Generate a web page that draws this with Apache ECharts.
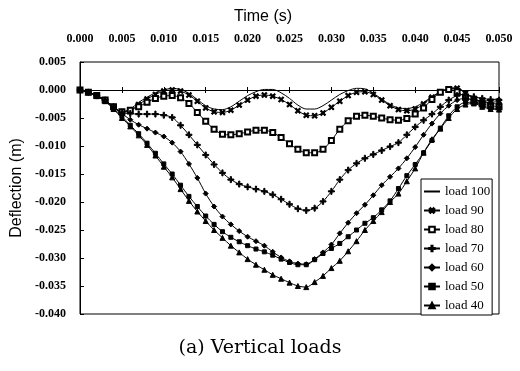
<!DOCTYPE html>
<html><head><meta charset="utf-8">
<script src="https://cdn.jsdelivr.net/npm/echarts@6/dist/echarts.min.js"></script>
<style>html,body{margin:0;padding:0;background:#fff}#c{width:520px;height:371px}</style>
</head><body><div id="c"></div>
<script>
var times = [0,0.001,0.002,0.003,0.004,0.005,0.006,0.007,0.008,0.009,0.010,0.011,0.012,0.013,0.014,0.015,0.016,0.017,0.018,0.019,0.020,0.021,0.022,0.023,0.024,0.025,0.026,0.027,0.028,0.029,0.030,0.031,0.032,0.033,0.034,0.035,0.036,0.037,0.038,0.039,0.040,0.041,0.042,0.043,0.044,0.045,0.046,0.047,0.048,0.049,0.050];
var seriesNames = ['load 100','load 90','load 80','load 70','load 60','load 50','load 40'];
var xTicks = [0,0.005,0.010,0.015,0.020,0.025,0.030,0.035,0.040,0.045,0.050];
var yTicks = [0.005,0,-0.005,-0.010,-0.015,-0.020,-0.025,-0.030,-0.035,-0.040];

var load100 = [0,-0.0004,-0.0010,-0.0018,-0.0030,-0.0039,-0.0034,-0.0022,-0.0013,-0.0005,0.0000,0.0003,0.0001,-0.0006,-0.0017,-0.0028,-0.0034,-0.0035,-0.0030,-0.0020,-0.0010,-0.0003,0.0001,0.0001,-0.0005,-0.0015,-0.0027,-0.0034,-0.0034,-0.0028,-0.0018,-0.0008,-0.0001,0.0003,0.0002,-0.0006,-0.0016,-0.0026,-0.0032,-0.0033,-0.0030,-0.0022,-0.0012,-0.0003,0.0003,0.0004,-0.0005,-0.0015,-0.0020,-0.0018,-0.0015];
var load90 = [0,-0.0004,-0.0010,-0.0018,-0.0030,-0.0039,-0.0036,-0.0026,-0.0016,-0.0008,-0.0002,0.0000,-0.0002,-0.0009,-0.0020,-0.0032,-0.0039,-0.0040,-0.0036,-0.0027,-0.0018,-0.0011,-0.0009,-0.0011,-0.0017,-0.0026,-0.0037,-0.0045,-0.0046,-0.0041,-0.0031,-0.0020,-0.0010,-0.0004,-0.0003,-0.0008,-0.0018,-0.0028,-0.0035,-0.0037,-0.0034,-0.0025,-0.0013,-0.0004,0.0002,0.0003,-0.0006,-0.0016,-0.0021,-0.0022,-0.0020];
var load80 = [0,-0.0004,-0.0010,-0.0018,-0.0030,-0.0039,-0.0036,-0.0030,-0.0022,-0.0015,-0.0011,-0.0010,-0.0014,-0.0024,-0.0040,-0.0056,-0.0070,-0.0079,-0.0080,-0.0078,-0.0075,-0.0072,-0.0072,-0.0076,-0.0085,-0.0096,-0.0106,-0.0112,-0.0112,-0.0106,-0.0090,-0.0070,-0.0055,-0.0047,-0.0045,-0.0047,-0.0050,-0.0053,-0.0054,-0.0051,-0.0043,-0.0032,-0.0017,-0.0004,0.0001,-0.0003,-0.0013,-0.0020,-0.0025,-0.0028,-0.0030];
var load70 = [0,-0.0004,-0.0010,-0.0018,-0.0030,-0.0040,-0.0042,-0.0043,-0.0043,-0.0043,-0.0045,-0.0049,-0.0063,-0.0080,-0.0098,-0.0116,-0.0133,-0.0148,-0.0160,-0.0168,-0.0173,-0.0177,-0.0181,-0.0187,-0.0195,-0.0204,-0.0212,-0.0215,-0.0211,-0.0199,-0.0181,-0.0160,-0.0143,-0.0131,-0.0122,-0.0115,-0.0108,-0.0101,-0.0094,-0.0080,-0.0066,-0.0054,-0.0043,-0.0030,-0.0018,-0.0010,-0.0008,-0.0012,-0.0015,-0.0017,-0.0018];
var load60 = [0,-0.0004,-0.0010,-0.0019,-0.0031,-0.0042,-0.0053,-0.0062,-0.0069,-0.0076,-0.0083,-0.0094,-0.0110,-0.0132,-0.0157,-0.0185,-0.0208,-0.0226,-0.0240,-0.0252,-0.0262,-0.0270,-0.0278,-0.0289,-0.0299,-0.0306,-0.0310,-0.0311,-0.0302,-0.0290,-0.0276,-0.0256,-0.0237,-0.0220,-0.0205,-0.0188,-0.0170,-0.0155,-0.0140,-0.0122,-0.0102,-0.0080,-0.0060,-0.0042,-0.0028,-0.0018,-0.0015,-0.0018,-0.0022,-0.0024,-0.0025];
var load50 = [0,-0.0004,-0.0011,-0.0020,-0.0033,-0.0047,-0.0063,-0.0078,-0.0095,-0.0113,-0.0132,-0.0150,-0.0170,-0.0190,-0.0208,-0.0225,-0.0240,-0.0253,-0.0263,-0.0271,-0.0278,-0.0284,-0.0289,-0.0295,-0.0302,-0.0308,-0.0312,-0.0312,-0.0303,-0.0292,-0.0283,-0.0274,-0.0262,-0.0250,-0.0238,-0.0228,-0.0214,-0.0198,-0.0176,-0.0153,-0.0133,-0.0112,-0.0090,-0.0068,-0.0046,-0.0030,-0.0022,-0.0022,-0.0028,-0.0032,-0.0033];
var load40 = [0,-0.0004,-0.0011,-0.0020,-0.0034,-0.0050,-0.0065,-0.0081,-0.0098,-0.0117,-0.0137,-0.0156,-0.0177,-0.0198,-0.0217,-0.0234,-0.0250,-0.0264,-0.0278,-0.0290,-0.0302,-0.0312,-0.0321,-0.0330,-0.0337,-0.0344,-0.0350,-0.0352,-0.0343,-0.0332,-0.0318,-0.0305,-0.0288,-0.0270,-0.0250,-0.0234,-0.0218,-0.0200,-0.0185,-0.0163,-0.0140,-0.0112,-0.0088,-0.0069,-0.0050,-0.0034,-0.0026,-0.0024,-0.0030,-0.0034,-0.0035];

var allValues = [load100, load90, load80, load70, load60, load50, load40];
var plusPath = 'path://M4,0h2v4h4v2h-4v4h-2v-4h-4v-2h4z';
var symbols = [
  {symbol:'none', size:0, rotate:0},
  {symbol:plusPath, size:6, rotate:45},
  {symbol:'emptyRect', size:5, rotate:0},
  {symbol:plusPath, size:6, rotate:0},
  {symbol:'diamond', size:5, rotate:0},
  {symbol:'rect', size:4, rotate:0},
  {symbol:'triangle', size:5, rotate:0}
];

function fmt(v){ if (Math.abs(v) < 1e-9) return '0.000'; return v.toFixed(3); }

var series = seriesNames.map(function(name, i){
  return {
    name: name, type: 'line', xAxisIndex: 0, yAxisIndex: 0,
    data: times.map(function(t, k){ return [t, allValues[i][k]]; }),
    smooth: 0.3,
    symbol: symbols[i].symbol, symbolSize: symbols[i].size, symbolRotate: symbols[i].rotate,
    showSymbol: symbols[i].symbol !== 'none',
    lineStyle: {color:'#000', width:1},
    itemStyle: {color:'#000', borderColor:'#000', borderWidth:1},
    emphasis: {disabled:true},
    z: 3
  };
});

var legendData = seriesNames.map(function(n, i){
  return i === 0 ? {name:n, itemStyle:{opacity:0}} : {name:n};
});

var chart = echarts.init(document.getElementById('c'), null, {renderer:'canvas'});
var xMin = xTicks[0], xMax = xTicks[xTicks.length-1], xInt = xTicks[1]-xTicks[0];
var yMin = yTicks[yTicks.length-1], yMax = yTicks[0], yInt = yTicks[0]-yTicks[1];
chart.setOption({
  animation: false,
  backgroundColor: '#fff',
  grid: {left:80, right:21, top:62, bottom:57, show:true, borderColor:'#000', borderWidth:1, backgroundColor:'#fff'},
  xAxis: [
    {type:'value', position:'top', min:xMin, max:xMax, interval:xInt,
     axisLine:{show:false, onZero:false}, axisTick:{show:false}, splitLine:{show:false},
     axisLabel:{formatter:fmt, margin:17, fontFamily:'Liberation Serif', fontSize:12, fontWeight:'bold', color:'#000'}},
    {type:'value', position:'bottom', min:xMin, max:xMax, interval:xInt,
     axisLine:{show:true, onZero:true, onZeroAxisIndex:0, lineStyle:{color:'#000', width:1}},
     axisTick:{show:true, inside:true, length:3, lineStyle:{color:'#000'}},
     axisLabel:{show:false}, splitLine:{show:false}},
    {type:'value', position:'bottom', min:xMin, max:xMax, interval:xInt,
     axisLine:{show:true, onZero:true, onZeroAxisIndex:0, lineStyle:{color:'#000', width:1}},
     axisTick:{show:true, inside:false, length:3, lineStyle:{color:'#000'}},
     axisLabel:{show:false}, splitLine:{show:false}}
  ],
  yAxis: [{type:'value', min:yMin, max:yMax, interval:yInt,
    name:'Deflection (m)', nameLocation:'middle', nameGap:52, nameRotate:90,
    nameTextStyle:{fontFamily:'Liberation Sans', fontSize:16, color:'#000'},
    axisLine:{show:true, onZero:false, lineStyle:{color:'#000', width:1}},
    axisTick:{show:true, inside:true, length:4, lineStyle:{color:'#000'}},
    splitLine:{show:false},
    axisLabel:{formatter:fmt, margin:14, fontFamily:'Liberation Serif', fontSize:12, fontWeight:'bold', color:'#000'}}],
  legend: {orient:'vertical', left:421, top:179, padding:[6,2,3,2], itemWidth:16, itemHeight:7, itemGap:6,
    borderColor:'#000', borderWidth:1, backgroundColor:'#fff', borderRadius:0,
    textStyle:{fontFamily:'Liberation Serif', fontSize:13, color:'#000'},
    data: legendData},
  graphic: [
    {type:'text', x:263, y:17,
     style:{text:'Time (s)', font:'16px "Liberation Sans"', fill:'#000', align:'center', verticalAlign:'middle'}},
    {type:'text', x:260, y:348,
     style:{text:'(a) Vertical loads', font:'19px "DejaVu Serif"', fill:'#000', align:'center', verticalAlign:'middle'}}
  ],
  series: series
});
</script></body></html>
